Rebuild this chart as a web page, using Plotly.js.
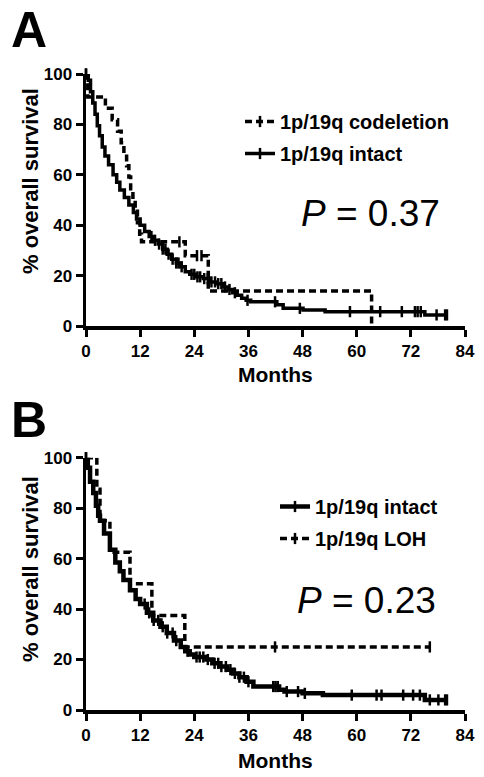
<!DOCTYPE html>
<html><head><meta charset="utf-8">
<script src="https://cdn.plot.ly/plotly-3.0.1.min.js"></script>
<style>html,body{margin:0;padding:0;background:#fff;}#chart{width:484px;height:777px;}</style>
</head><body><div id="chart"></div>
<script>
// ---------- Data ----------
const xTicks = [0, 12, 24, 36, 48, 60, 72, 84];
const yTicks = [0, 20, 40, 60, 80, 100];

// Panel A: 1p/19q codeletion (dashed)
const aCodelT = [0, 0.4, 4.3, 5.8, 7.0, 7.8, 8.4, 9.0, 9.5, 9.9, 10.4, 10.9, 11.4, 11.9, 12.3, 22.0, 27.1, 63.3];
const aCodelS = [100, 90.9, 86.4, 81.8, 77.3, 72.7, 68.2, 63.6, 59.1, 54.5, 50, 45.5, 41, 36.4, 33.4, 27.9, 13.9, 0];
const aCodelCens = [20.7, 24.6, 25.6];

// Panel A: 1p/19q intact (solid)
const aIntT = [0, 0.5, 1.0, 1.5, 2.0, 2.5, 3.0, 3.6, 4.2, 5.0, 6.0, 6.8, 7.5, 8.5, 9.5, 10.5, 11.2, 12.0, 13.0, 14.0, 15.0, 16.0, 17.0, 18.0, 19.0, 20.0, 21.0, 22.0, 23.0, 24.5, 26.0, 27.5, 29.0, 30.5, 31.5, 32.5, 33.5, 34.5, 35.5, 36.5, 42.3, 43.7, 48.1, 53.0, 75.1];
const aIntS = [100, 97.5, 93, 88.5, 84, 79.5, 75.5, 71, 67.5, 64, 60, 57, 54, 51, 48, 45, 42.5, 40, 37.5, 35.5, 34, 32.5, 30.5, 28.5, 26.5, 25, 23.5, 21.5, 20.5, 19.5, 18.8, 17.5, 16.8, 15.5, 14.5, 13.2, 12.2, 11, 10.2, 9.6, 8.4, 7.0, 6.3, 5.7, 4.4];
const aIntCens = [14.5, 15.3, 16.2, 17.0, 17.6, 18.3, 19.2, 20.0, 20.5, 21.2, 23.4, 24.0, 24.7, 25.3, 26.2, 27.0, 27.8, 28.6, 29.3, 30.0, 30.8, 31.8, 33.0, 35.8, 41.9, 47.4, 58.5, 65.2, 70.0, 72.9, 73.5, 74.2, 77.7, 79.6, 80.0];

// Panel B: 1p/19q intact (solid)
const bIntT = [0, 0.4, 0.9, 1.6, 2.2, 2.7, 3.1, 4.0, 5.3, 6.5, 7.5, 8.3, 9.75, 11.0, 12.0, 13.5, 14.9, 16.5, 17.9, 19.5, 21.0, 22.0, 23.0, 24.0, 26.7, 28.0, 29.7, 31.2, 32.6, 34.0, 35.6, 37.1, 42.8, 44.0, 48.0, 52.5, 75.1];
const bIntS = [100, 96, 90.5, 86, 81, 77, 75, 70, 63.5, 58.5, 55, 51.5, 47.5, 44, 42, 38.5, 35.5, 33, 30.5, 27.5, 25, 23.3, 22, 21, 20, 18.5, 17.2, 16, 14.5, 13, 11.2, 9.3, 8.0, 7.3, 6.6, 5.9, 4.0];
const bIntCens = [13.0, 14.0, 15.0, 16.0, 17.0, 18.0, 19.2, 20.0, 22.5, 24.5, 25.2, 26.0, 27.0, 28.5, 29.3, 30.0, 31.0, 32.0, 33.0, 34.0, 35.0, 36.0, 41.5, 42.0, 42.5, 44.5, 47.0, 48.5, 58.9, 64.4, 65.5, 70.3, 72.5, 74.0, 76.2, 78.1, 79.6, 80.0];

// Panel B: 1p/19q LOH (dashed)
const bLohT = [0, 2.4, 3.1, 5.3, 9.75, 14.6, 21.9];
const bLohS = [100, 87.5, 75, 62.5, 50, 37.5, 25];
const bLohCens = [41.9, 76.2];

// ---------- Build Kaplan–Meier traces ----------
function stepValue(times, surv, t) {
  let s = surv[0];
  for (let i = 0; i < times.length; i++) if (times[i] <= t) s = surv[i];
  return s;
}
function kmTrace(times, surv, cens, opts) {
  const pts = times.map((t, i) => ({x: t, y: surv[i], c: false}));
  cens.forEach(t => pts.push({x: t, y: stepValue(times, surv, t), c: true}));
  pts.sort((a, b) => (a.x - b.x) || ((a.c ? 1 : 0) - (b.c ? 1 : 0)));
  return {
    type: 'scatter', mode: 'lines+markers',
    x: pts.map(p => p.x), y: pts.map(p => p.y),
    line: {shape: 'hv', color: '#000', width: opts.width || 3.5, dash: opts.dash || 'solid'},
    marker: {symbol: 'line-ns-open', size: 8,
      color: pts.map((p, i) => (p.c || i === 0) ? '#000' : 'rgba(0,0,0,0)'),
      line: {width: 2.5}},
    cliponaxis: false, hoverinfo: 'skip',
    name: opts.name, legendgroup: opts.group, legend: opts.legend,
    xaxis: opts.xa, yaxis: opts.ya
  };
}

const data = [
  kmTrace(aCodelT, aCodelS, aCodelCens, {name: '1p/19q codeletion', dash: '7px,4px', group: 'a1', legend: 'legend', xa: 'x', ya: 'y'}),
  kmTrace(aIntT, aIntS, aIntCens, {name: '1p/19q intact', group: 'a2', legend: 'legend', xa: 'x', ya: 'y'}),
  kmTrace(bIntT, bIntS, bIntCens, {name: '1p/19q intact', group: 'b1', legend: 'legend2', xa: 'x2', ya: 'y2', width: 4.5}),
  kmTrace(bLohT, bLohS, bLohCens, {name: '1p/19q LOH', dash: '7px,4px', group: 'b2', legend: 'legend2', xa: 'x2', ya: 'y2'})
];

// ---------- Layout ----------
const FONT = 'Liberation Sans, Arial, sans-serif';
const W = 484, H = 777, L = 86, R = 19, T = 74, B = 67;
const pw = W - L - R, ph = H - T - B;
const px = v => (v - L) / pw;          // pixel x -> paper
const py = v => (H - B - v) / ph;      // pixel y -> paper

function xAxis(anchor) {
  return {anchor: anchor, domain: [0, 1], range: [0, 84], tickvals: xTicks, ticktext: xTicks.map(String),
    showline: true, linewidth: 3.5, linecolor: '#000', ticks: 'outside', ticklen: 7, tickwidth: 3, tickcolor: '#000',
    showgrid: false, zeroline: false, fixedrange: true,
    tickfont: {family: FONT, size: 17, weight: 'bold', color: '#000'}};
}
function yAxis(anchor, dom) {
  return {anchor: anchor, domain: dom, range: [0, 100], tickvals: yTicks, ticktext: yTicks.map(String),
    showline: true, linewidth: 3.5, linecolor: '#000', ticks: 'outside', ticklen: 7, tickwidth: 3, tickcolor: '#000',
    showgrid: false, zeroline: false, fixedrange: true,
    tickfont: {family: FONT, size: 17, weight: 'bold', color: '#000'}};
}
function legendBox(xpix, ypix) {
  return {x: px(xpix), y: py(ypix), xanchor: 'left', yanchor: 'top', bgcolor: 'rgba(0,0,0,0)', borderwidth: 0,
    traceorder: 'grouped', tracegroupgap: 3,
    font: {family: FONT, size: 20, weight: 'bold', color: '#000'}};
}
function ann(text, xpix, ypix, size, extra) {
  return Object.assign({text: text, xref: 'paper', yref: 'paper', x: px(xpix), y: py(ypix),
    xanchor: 'center', yanchor: 'middle', showarrow: false,
    font: {family: FONT, size: size, color: '#000'}}, extra || {});
}

const layout = {
  width: W, height: H, margin: {l: L, r: R, t: T, b: B},
  paper_bgcolor: '#fff', plot_bgcolor: '#fff', showlegend: true,
  xaxis: xAxis('y'), yaxis: yAxis('x', [py(326), 1]),
  xaxis2: xAxis('y2'), yaxis2: yAxis('x2', [0, py(457.7)]),
  legend: legendBox(240, 102),
  legend2: legendBox(275, 487),
  annotations: [
    ann('<b>A</b>', 29, 30, 50),
    ann('<b>B</b>', 29, 420, 50),
    ann('<i>P</i> = 0.37', 370, 214, 37),
    ann('<i>P</i> = 0.23', 366, 600, 37),
    ann('<b>% overall survival</b>', 30, 181, 22, {textangle: -90}),
    ann('<b>% overall survival</b>', 30, 569, 22, {textangle: -90}),
    ann('<b>Months</b>', 275.5, 375, 21),
    ann('<b>Months</b>', 275.5, 760, 21)
  ]
};

Plotly.newPlot('chart', data, layout, {displayModeBar: false, staticPlot: true});
</script></body></html>
